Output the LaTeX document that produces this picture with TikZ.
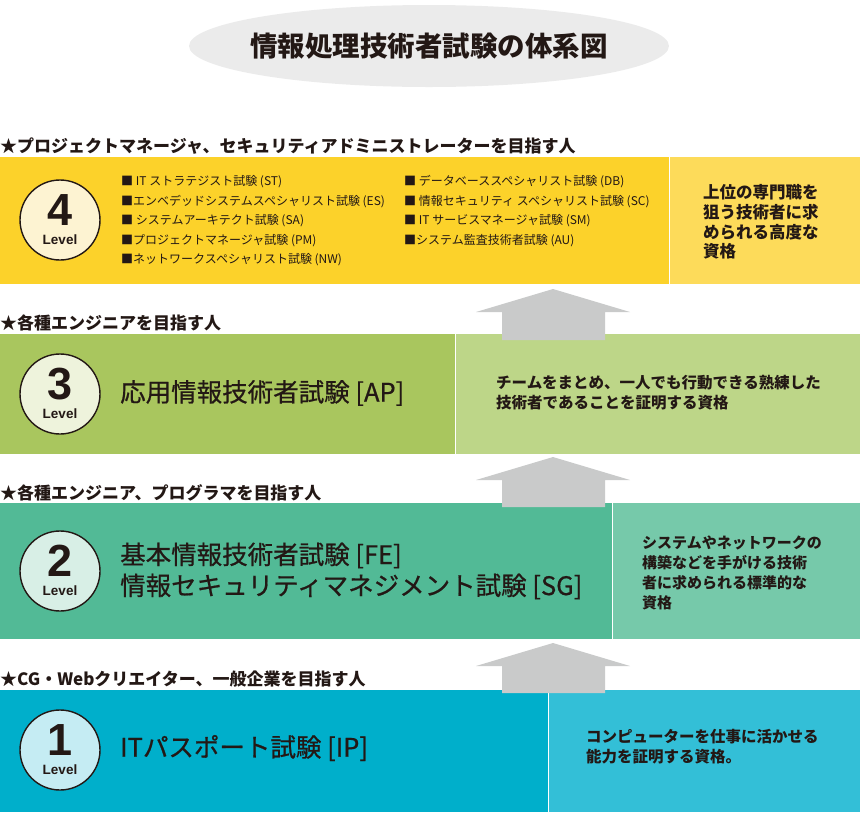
\documentclass[tikz,border=0pt]{standalone}
\usepackage{xcolor}
\usepackage{fontspec}
\setmainfont{Noto Sans CJK JP}
\newfontfamily\examfont{Noto Sans CJK JP}[FakeBold=0.7]
\newfontfamily\numfont{Liberation Sans}
\usepackage{tikz}
\usetikzlibrary{calc}
\usetikzlibrary{positioning}
\usetikzlibrary{shapes.geometric}
\definecolor{ink}{HTML}{231815}
\definecolor{titlegray}{HTML}{EBEBEB}
\definecolor{arrowgray}{HTML}{C9CACA}
\definecolor{fourA}{HTML}{FCD22A}
\definecolor{fourB}{HTML}{FDDB5A}
\definecolor{fourC}{HTML}{FDF3D2}
\definecolor{threeA}{HTML}{A9C65E}
\definecolor{threeB}{HTML}{BDD688}
\definecolor{threeC}{HTML}{EEF3DC}
\definecolor{twoA}{HTML}{52BA96}
\definecolor{twoB}{HTML}{76C9AA}
\definecolor{twoC}{HTML}{D8EFE6}
\definecolor{oneA}{HTML}{00AFCB}
\definecolor{oneB}{HTML}{33BFD7}
\definecolor{oneC}{HTML}{C5ECF3}
\tikzset{
  band/.style = {rectangle, draw=none, inner sep=0, anchor=north west},
  lvcircle/.style = {circle, draw=ink, line width=1.4pt, minimum size=80, inner sep=0},
  lvnum/.style = {inner sep=0, text=ink, font=\numfont\bfseries\fontsize{45}{45}\selectfont},
  lvword/.style = {inner sep=0, text=ink, font=\numfont\bfseries\fontsize{13.5}{14}\selectfont},
  target/.style = {inner sep=0, anchor=west, text=ink, font=\bfseries\fontsize{17}{20}\selectfont},
  exam/.style = {inner sep=0, anchor=west, align=left, text=ink, font=\examfont\fontsize{25.5}{31}\selectfont},
  item/.style = {inner sep=0, anchor=west, text=ink, font=\fontsize{12}{14}\selectfont},
  note/.style = {inner sep=0, anchor=west, align=left, text=ink, font=\bfseries\fontsize{15.5}{20}\selectfont}
}

\begin{document}
\begin{tikzpicture}[x=1pt, y=-1pt]
\useasboundingbox (0,0) rectangle (860,812);

% title
\node [ellipse, fill=titlegray, minimum width=480, minimum height=82, inner sep=0] (titlebg) at (429,46) {};
\node [inner sep=0, text=ink, font=\bfseries\fontsize{27.5}{30}\selectfont] (title) at (titlebg) {情報処理技術者試験の体系図};

% bands
\node [band, fill=fourA, minimum width=669, minimum height=127] (b4L) at (0,157) {};
\node [band, fill=fourB, minimum width=191, minimum height=127] (b4R) at (b4L.north east) {};
\node [band, fill=threeA, minimum width=455, minimum height=120] (b3L) at (0,334) {};
\node [band, fill=threeB, minimum width=405, minimum height=120] (b3R) at (b3L.north east) {};
\node [band, fill=twoA, minimum width=612, minimum height=136] (b2L) at (0,503) {};
\node [band, fill=twoB, minimum width=248, minimum height=136] (b2R) at (b2L.north east) {};
\node [band, fill=oneA, minimum width=548, minimum height=122] (b1L) at (0,690) {};
\node [band, fill=oneB, minimum width=312, minimum height=122] (b1R) at (b1L.north east) {};

% up arrows
\foreach \ya/\yb in {289/340, 457/507, 643/693}
  \fill [arrowgray] (553,\ya) -- (630,\ya+23) -- (605,\ya+23) -- (605,\yb)
    -- (502,\yb) -- (502,\ya+23) -- (476,\ya+23) -- cycle;

% who it is for
\node [target] (t4) at (0,146) {★プロジェクトマネージャ、セキュリティアドミニストレーターを目指す人};
\node [target] (t3) at (0,323) {★各種エンジニアを目指す人};
\node [target] (t2) at (0,493) {★各種エンジニア、プログラマを目指す人};
\node [target] (t1) at (0,679) {★CG・Webクリエイター、一般企業を目指す人};

% level badges
\foreach \lv/\yc/\col in {4/220/fourC, 3/394/threeC, 2/571/twoC, 1/750/oneC} {
  \node [lvcircle, fill=\col] (c\lv) at (60,\yc) {};
  \node [lvnum] (n\lv) at ([yshift=10pt]c\lv.center) {\lv};
  \node [lvword] (w\lv) at ([yshift=-20pt]c\lv.center) {Level};
}

% level 4 exams
\foreach \t [count=\i] in {■ IT ストラテジスト試験 (ST), ■エンベデッドシステムスペシャリスト試験 (ES),
    ■ システムアーキテクト試験 (SA), ■プロジェクトマネージャ試験 (PM), ■ネットワークスペシャリスト試験 (NW)}
  \node [item] (la\i) at (121,162.5+19.5*\i) {\t};
\foreach \t [count=\i] in {■ データベーススペシャリスト試験 (DB), ■ 情報セキュリティ スペシャリスト試験 (SC),
    ■ IT サービスマネージャ試験 (SM), ■システム監査技術者試験 (AU)}
  \node [item] (lb\i) at (404,162.5+19.5*\i) {\t};

% exam names
\node [exam] (e3) at (120,393) {応用情報技術者試験 [AP]};
\node [exam] (e2) at (120,571) {基本情報技術者試験 [FE]\\情報セキュリティマネジメント試験 [SG]};
\node [exam] (e1) at (120,748) {ITパスポート試験 [IP]};

% notes
\node [note, font=\bfseries\fontsize{16.5}{19.7}\selectfont] (d4) at (703,222) {上位の専門職を\\狙う技術者に求\\められる高度な\\資格};
\node [note] (d3) at (496,393) {チームをまとめ、一人でも行動できる熟練した\\技術者であることを証明する資格};
\node [note, font=\bfseries\fontsize{15}{20}\selectfont] (d2) at (642,573) {システムやネットワークの\\構築などを手がける技術\\者に求められる標準的な\\資格};
\node [note] (d1) at (586,747) {コンピューターを仕事に活かせる\\能力を証明する資格。};
\end{tikzpicture}
\end{document}
